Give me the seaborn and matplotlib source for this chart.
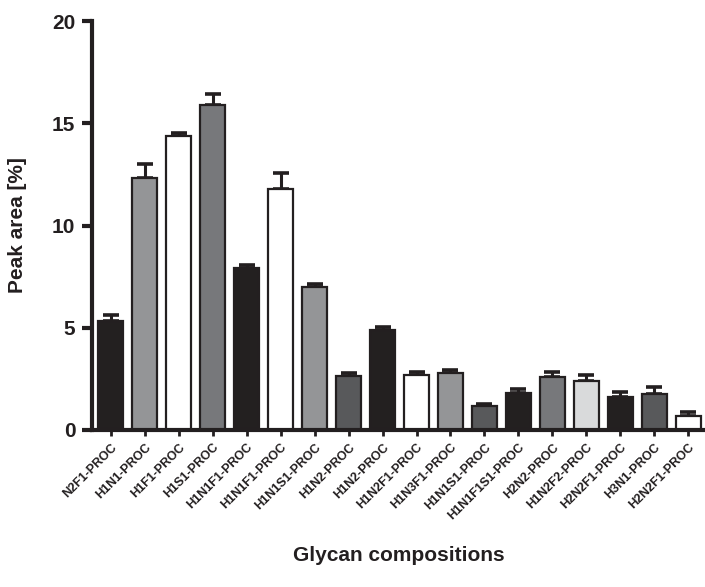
import matplotlib.pyplot as plt
import numpy as np
import pandas as pd
import seaborn as sns

# Glycan compositions and mean peak areas
glycans = ["N2F1-PROC", "H1N1-PROC", "H1F1-PROC", "H1S1-PROC", "H1N1F1-PROC",
           "H1N1F1-PROC ", "H1N1S1-PROC", "H1N2-PROC", "H1N2-PROC ", "H1N2F1-PROC",
           "H1N3F1-PROC", "H1N1S1-PROC ", "H1N1F1S1-PROC", "H2N2-PROC", "H1N2F2-PROC",
           "H2N2F1-PROC", "H3N1-PROC", "H2N2F1-PROC "]
peak_area = [5.33, 12.35, 14.37, 15.88, 7.92, 11.77, 6.99, 2.62, 4.90, 2.71,
             2.80, 1.17, 1.82, 2.61, 2.39, 1.61, 1.75, 0.67]
sem = [0.30, 0.68, 0.15, 0.57, 0.15, 0.82, 0.16, 0.17, 0.16, 0.14,
       0.13, 0.10, 0.20, 0.22, 0.32, 0.26, 0.37, 0.22]
bar_colors = ["#231f20", "#939598", "#ffffff", "#77787b", "#231f20", "#ffffff",
              "#939598", "#58595b", "#231f20", "#ffffff", "#939598", "#58595b",
              "#231f20", "#77787b", "#d9dadb", "#231f20", "#58595b", "#ffffff"]

df = pd.DataFrame({"glycan": glycans, "area": peak_area})

sns.set_style("ticks")
plt.rcParams["font.family"] = ["Liberation Sans", "DejaVu Sans"]

fig = plt.figure(figsize=(7.05, 5.87), dpi=100)
ax = fig.add_axes([0.1305, 0.2675, 0.87, 0.6965])

sns.barplot(data=df, x="glycan", y="area", hue="glycan", palette=bar_colors,
            legend=False, width=0.74, edgecolor="#231f20", linewidth=1.6,
            ax=ax, zorder=2)

# one-sided error bars (upper only)
xs = np.arange(len(glycans))
ax.errorbar(xs, peak_area, yerr=[np.zeros(len(sem)), sem], fmt="none",
            ecolor="#231f20", elinewidth=2.2, capsize=5.5, capthick=2.6, zorder=1)

ax.set_ylim(0, 20)
ax.set_xlim(-0.55, 17.5)
ax.set_yticks([0, 5, 10, 15, 20])
ax.set_yticklabels(["0", "5", "10", "15", "20"], fontsize=15, fontweight="bold",
                   color="#231f20")
ax.set_xticks(xs)
ax.set_xticklabels([g.strip() for g in glycans], rotation=45, ha="right",
                   rotation_mode="anchor", fontsize=9, fontweight="bold",
                   color="#231f20")

ax.set_ylabel("Peak area [%]", fontsize=15, fontweight="bold", labelpad=18,
              color="#231f20")
ax.set_xlabel("Glycan compositions", fontsize=15, fontweight="bold", labelpad=17,
              color="#231f20")

for side in ["top", "right"]:
    ax.spines[side].set_visible(False)
for side in ["left", "bottom"]:
    ax.spines[side].set_linewidth(3)
    ax.spines[side].set_color("#231f20")
ax.tick_params(axis="y", width=3, length=7, color="#231f20", pad=5)
ax.tick_params(axis="x", width=2, length=4, color="#231f20", pad=4)

fig.savefig("out.png", dpi=100)
